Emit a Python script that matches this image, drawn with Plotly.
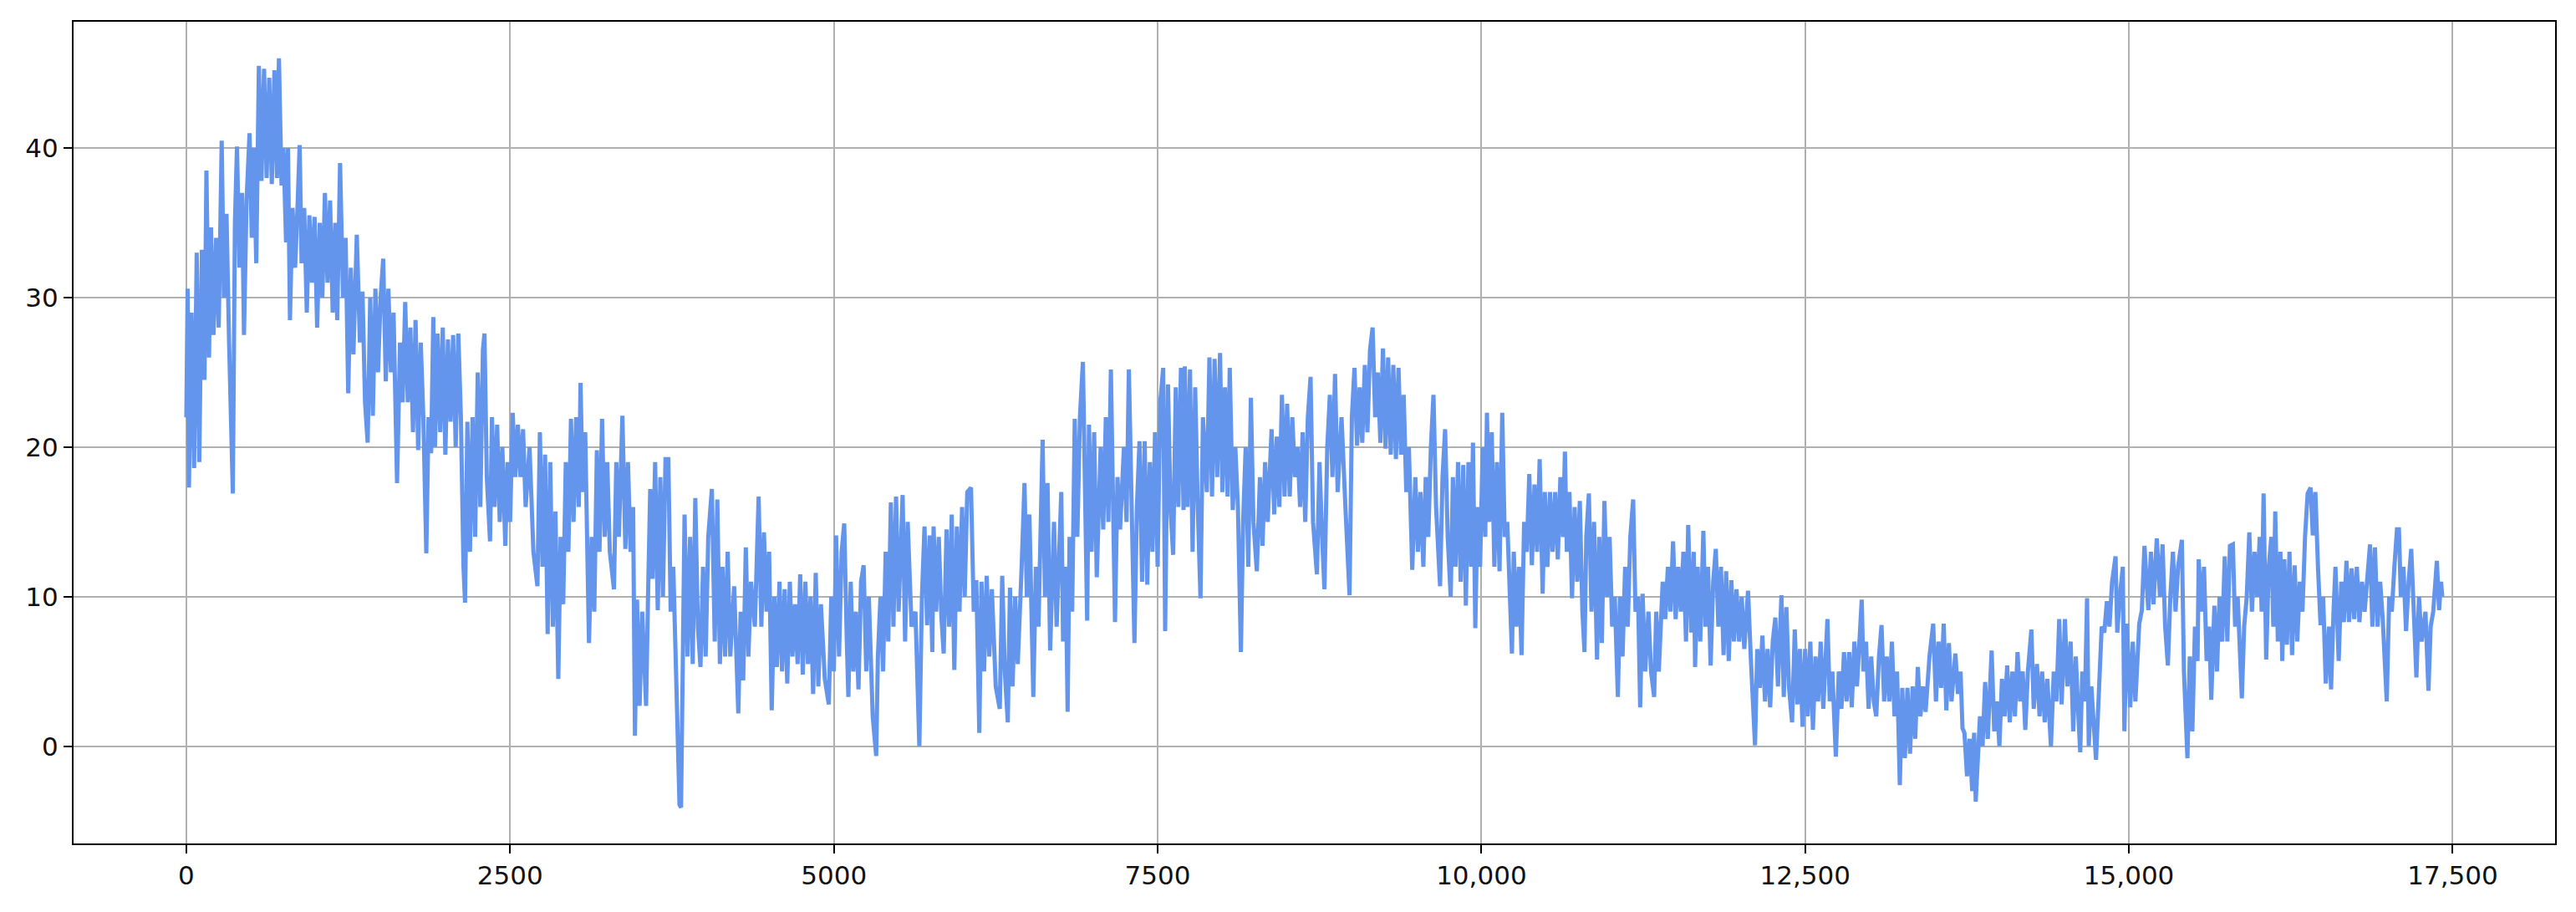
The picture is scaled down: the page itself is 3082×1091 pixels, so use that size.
import plotly.graph_objects as go

# (sample index, value) pairs, segment by segment
seg_a = [(0,22),(10,30.6),(20,17.3),(40,29),(60,18.6),(80,33),(100,19),(120,33.2),(140,24.5),(155,38.5),
         (175,26),(190,34.7),(210,27.5),(230,34),(250,28),(273,40.5),(290,30),(310,35.6),(330,27),(359,16.9),
         (375,35),(391,40.1),(410,32),(430,37),(445,27.5),(465,36.5),(488,41),(505,34),(520,40),(540,32.3),
         (560,45.5),(580,37.8),(600,45.3),(620,38),(640,44.7),(660,37.6),(680,45.2),(700,38),(715,46),(735,37.5),
         (750,40),(770,33.7),(785,40),(800,28.5),(820,36),(840,32),(860,36.4),(875,40.2),(890,32.3),(910,36),
         (930,29),(950,35.5),(970,31),(990,35.4),(1010,28),(1030,35),(1050,30),(1070,37),(1090,31),(1110,36.5),
         (1130,29),(1150,35),(1165,28.5),(1187,39),(1210,30),(1230,34),(1250,23.6),(1270,32),(1290,26.2),(1316,34.2),
         (1340,27),(1360,30.4),(1380,23),(1400,20.3),(1420,30),(1440,22.1),(1460,30.6),(1480,25),(1500,30),(1520,32.6),
         (1540,24.4),(1560,30.6),(1580,25),(1600,29),(1627,17.6),(1650,27),(1670,23),(1690,29.7),(1710,23),(1730,28),
         (1750,21),(1770,28.5),(1790,19.8),(1810,27),(1830,22),(1853,12.9),(1870,22),(1890,19.6),(1907,28.7),(1920,20)]

seg_b = [(1940,27.6),(1960,21),(1980,28),(2000,19.5),(2020,27.2),(2040,21.7),(2060,27.5),(2080,20),(2100,27.6),(2120,22),
         (2140,12),(2152,9.6),(2170,21.7),(2190,13),(2210,22),(2230,14),(2250,25),(2270,16),(2290,26.5),(2302,27.6),
         (2320,18),(2345,13.7),(2360,22),(2380,16),(2400,21.5),(2420,15),(2440,20),(2463,13.4),(2480,19),(2500,15),
         (2520,22.3),(2540,18),(2560,21.5),(2580,18),(2600,21.2),(2620,16),(2650,20),(2680,13),(2711,10.7),(2730,21),
         (2750,12),(2770,19.5),(2790,7.5),(2810,19),(2830,8),(2850,15.7),(2872,4.5),(2890,14),(2910,9.5),(2930,19),
         (2950,13),(2970,21.9),(2990,15),(3010,22),(3030,16),(3044,24.3),(3060,17),(3080,21),(3109,6.9),(3130,14),
         (3150,9),(3170,19.8),(3190,13),(3210,21.9),(3230,14),(3250,19),(3270,13),(3302,10.5),(3320,19),(3340,14),
         (3367,22.1),(3390,13.2),(3410,19),(3430,13),(3450,16),(3464,0.7),(3480,9.8),(3500,2.7),(3520,9),(3550,2.7),
         (3565,10),(3582,17.2),(3600,11.2),(3620,19),(3640,9.1),(3660,18),(3680,10),(3700,19.2),(3722,19.2),(3740,9),
         (3760,12),(3790,2),(3808,-3.9),(3820,-4.1)]

seg_c = [(3847,15.5),(3870,6),(3890,14),(3910,5.5),(3930,16.6),(3950,8),(3970,5.3),(3990,12),(4010,6),(4030,14),
         (4058,17.2),(4080,7),(4100,16.5),(4120,5.5),(4140,12),(4160,6),(4180,13),(4200,6),(4230,10.7),(4262,2.2),
         (4280,9),(4300,4.4),(4320,13.3),(4340,6),(4360,11),(4390,8),(4419,16.7),(4440,8),(4460,14.3),(4480,9),
         (4500,13),(4520,2.4),(4540,10),(4560,5.3),(4580,11),(4600,5),(4620,10.5),(4640,4.2),(4660,11),(4680,6),
         (4700,9.5),(4720,5.5),(4740,11.5),(4760,4.8),(4780,11),(4800,5.5),(4820,10),(4840,3.5),(4860,11.6),(4880,4),
         (4900,9.5),(4930,4.5),(4961,2.8),(4980,10),(5000,5),(5017,14.1),(5040,6),(5060,13),(5080,14.9),(5100,7),
         (5112,3.3),(5130,11),(5150,5),(5170,9),(5190,3.8),(5210,11),(5230,12.1),(5250,5),(5270,10),(5300,2),
         (5327,-0.65),(5340,6),(5360,10),(5380,5),(5400,13),(5420,7),(5440,16.3),(5460,8),(5480,16.7),(5500,9),
         (5531,16.8),(5550,7),(5570,15),(5600,8),(5630,9),(5660,0),(5680,10),(5700,14.7),(5720,8.1),(5740,14.1),
         (5760,6.3)]

seg_d = [(5770,14.7),(5790,9),(5810,14),(5830,8.7),(5848,6.2),(5870,14.5),(5890,8),(5910,15.5),(5930,5.1),(5950,14.7),
         (5970,9),(5990,16),(6010,10),(6030,17),(6059,17.3),(6080,9),(6100,11.1),(6123,0.9),(6140,11),(6160,5),
         (6180,11.4),(6200,6),(6220,10.5),(6250,4),(6281,2.5),(6300,11.4),(6320,5),(6343,1.6),(6360,10.6),(6380,4),
         (6400,10),(6420,5.5),(6450,12),(6472,17.6),(6490,10),(6510,15.5),(6540,3.3),(6560,12),(6580,8),(6612,20.5),
         (6630,10),(6650,17.6),(6670,6.4),(6700,15),(6720,8),(6756,17),(6770,7),(6790,12),(6805,2.3),(6820,14),
         (6840,9),(6860,21.9),(6880,14),(6900,22),(6923,25.7),(6940,15),(6956,8.4),(6970,21.5),(6990,13),(7010,21),
         (7030,11.3),(7060,20),(7080,14.5),(7100,22),(7120,15),(7139,25.2),(7155,14.5),(7171,8.3),(7190,18),(7210,14.5),
         (7240,20),(7260,15),(7278,25.2),(7300,14),(7321,6.9),(7340,16),(7360,20.4),(7380,11),(7400,20.4),(7420,10.8),
         (7440,19),(7460,13),(7480,21),(7500,12),(7520,23),(7543,25.3),(7558,7.7),(7580,24.2),(7600,15.8),(7620,12.8),
         (7640,24),(7660,16),(7680,25.3),(7700,15.8)]

seg_e = [(7710,25.4),(7730,16),(7750,25.2),(7770,13),(7790,24),(7810,16),(7831,9.9),(7850,22),(7880,17),(7900,26),
         (7920,16.7),(7940,25.9),(7960,18),(7982,26.3),(8000,17),(8020,24),(8040,16.7),(8057,25.3),(8080,15.8),(8100,20),
         (8120,16),(8143,6.3),(8160,15),(8180,20),(8200,12),(8220,23.3),(8240,15),(8266,11.7),(8290,18),(8310,13.4),
         (8330,19),(8350,15),(8380,21.2),(8400,15.5),(8420,20.7),(8440,16),(8460,23.5),(8480,16.7),(8500,22.9),(8520,16.7),
         (8540,22),(8560,18),(8580,20),(8600,16),(8620,21),(8640,15),(8660,22),(8681,24.7),(8700,15),(8730,11.5),
         (8750,19),(8770,14),(8788,10.5),(8810,20),(8830,23.5),(8850,18),(8870,24.9),(8890,17),(8920,22),(8950,16),
         (8982,10.1),(9000,22),(9020,25.3),(9040,20.1),(9060,24),(9080,20.3),(9100,25.5),(9120,21),(9140,26.5),(9160,28),
         (9180,22),(9200,25),(9220,20.3),(9240,26.6),(9260,19.9),(9280,26),(9300,19.5),(9320,25.5),(9340,19.2),(9360,25.3),
         (9380,19.5),(9400,23.5),(9420,17),(9440,20),(9466,11.8),(9490,18),(9510,13),(9530,17),(9552,12),(9570,18),
         (9590,14),(9610,20),(9630,23.5),(9650,16),(9681,10.7),(9700,18)]

seg_f = [(9720,21.2),(9740,14),(9763,10),(9780,18),(9800,12),(9820,19),(9840,11),(9860,18.8),(9880,9.4),(9900,19),
         (9920,12),(9935,20.3),(9953,7.9),(9970,16),(9990,12),(10010,20),(10030,14),(10043,22.3),(10060,15),(10080,21),
         (10100,12),(10120,19),(10140,11.7),(10161,22.3),(10180,14),(10200,15),(10220,9),(10236,6.2),(10250,13),(10270,8),
         (10290,12),(10310,6.1),(10330,15),(10350,13),(10370,18.2),(10390,12.1),(10410,17.5),(10430,13),(10450,19.2),(10473,10.2),
         (10490,17),(10510,12),(10530,17),(10550,13),(10570,17),(10590,12.5),(10610,18),(10630,14),(10645,19.7),(10660,13),
         (10680,17),(10700,9.9),(10720,16),(10740,11),(10760,16.4),(10780,9),(10796,6.3),(10810,14),(10830,16.9),(10850,9),
         (10870,15),(10893,5.8),(10910,14),(10930,6.9),(10950,16.4),(10970,10),(10990,14),(11010,8),(11030,10),(11054,3.3),
         (11070,10),(11090,6),(11110,12),(11130,8),(11150,14),(11172,16.5),(11190,9),(11210,10),(11226,2.6),(11245,10.2),
         (11265,5),(11290,9),(11310,5),(11334,3.3),(11350,9),(11370,5),(11400,11),(11420,8.5),(11440,12),(11460,9),
         (11480,13.7),(11500,8.5),(11520,12),(11540,9),(11560,13),(11580,7)]

seg_g = [(11597,14.8),(11620,7.6),(11640,13),(11650,5.3),(11670,12),(11690,7),(11714,14.4),(11730,8),(11750,12),(11770,5.4),
         (11790,11),(11810,13.2),(11830,8),(11850,12),(11870,6.1),(11890,11.7),(11910,5.7),(11930,11.1),(11950,7),(11970,10.5),
         (11990,7),(12010,10),(12030,6.5),(12059,10.4),(12080,6),(12100,3),(12113,0.06),(12130,6.5),(12150,3.9),(12170,7.4),
         (12190,3),(12210,6.5),(12230,2.6),(12250,7),(12270,8.6),(12290,4),(12317,10.1),(12335,3.3),(12355,9.3),(12375,4),
         (12399,1.6),(12420,7.8),(12440,2.8),(12460,6.5),(12480,1.3),(12500,6.5),(12520,2),(12540,7),(12560,1.1),(12580,6),
         (12600,3),(12620,7),(12640,2.5),(12672,8.5),(12690,3),(12710,5),(12737,-0.7),(12760,5),(12780,2.5),(12800,6.3),
         (12820,3),(12840,6.3),(12860,2.6),(12880,7),(12900,4),(12937,9.8),(12950,5),(12970,7),(12990,2.5),(13010,6),
         (13030,3),(13049,2),(13070,6),(13090,8.1),(13110,3),(13130,6),(13150,3),(13170,7),(13190,2),(13210,5),
         (13231,-2.6),(13250,3.9),(13270,-0.8),(13290,3.9),(13310,-0.5),(13330,4),(13350,0.5),(13370,5.3),(13390,2),(13410,4),
         (13430,2.3),(13460,6),(13489,8.2),(13510,3)]

seg_h = [(13530,7),(13550,3.9),(13570,8.2),(13590,2.4),(13610,6.9),(13630,3),(13660,6.2),(13680,3.5),(13700,5),(13715,1.2),
         (13730,0.9),(13750,-2),(13770,0.5),(13790,-3),(13805,0.9),(13817,-3.7),(13830,-1),(13850,2),(13870,0),(13890,4.3),
         (13910,0.5),(13940,6.4),(13960,1),(13980,3),(14000,0),(14020,4.5),(14040,2),(14060,5.4),(14080,1.6),(14100,5),
         (14120,2),(14140,6.3),(14160,3),(14180,5),(14200,1.1),(14220,5),(14247,7.8),(14265,2.5),(14290,5.5),(14310,2),
         (14330,5),(14350,1.6),(14370,4.5),(14398,-0.04),(14420,5),(14440,3),(14462,8.5),(14480,2.8),(14500,7),(14506,8.5),
         (14525,4),(14550,7),(14570,1),(14590,6),(14610,2),(14624,-0.4),(14640,5),(14660,3),(14677,9.9),(14690,0),
         (14710,4),(14730,1),(14746,-0.9),(14770,4),(14790,8),(14810,7.6),(14830,9.7),(14850,8),(14870,11),(14897,12.7),
         (14910,7.6),(14930,10),(14953,12),(14965,1),(14985,8.2),(15010,2.6),(15030,7),(15050,3),(15080,8.2),(15100,9.1),
         (15120,13.4),(15150,9.1),(15170,13),(15190,9.5),(15215,13.9),(15240,10),(15260,13.5),(15280,8),(15301,5.4),(15320,10),
         (15340,13),(15360,9),(15380,12),(15409,13.8),(15425,5),(15452,-0.8)]

seg_i = [(15470,6),(15490,1),(15510,8),(15530,5.7),(15539,12.5),(15560,9),(15580,12),(15600,5.7),(15620,8),(15636,3.1),
         (15660,9.4),(15680,5),(15700,10),(15720,7),(15740,12.7),(15760,7),(15780,13.4),(15803,13.5),(15820,8),(15840,10),
         (15860,6),(15872,3.2),(15890,8),(15910,10),(15930,14.3),(15950,9),(15970,13),(15990,10),(16010,14),(16025,9),
         (16040,16.9),(16060,5.8),(16080,12),(16100,14),(16115,8),(16130,15.7),(16150,7),(16170,13),(16184,5.7),(16200,12.5),
         (16220,6.8),(16240,13),(16260,6.1),(16280,12.1),(16300,7),(16320,11),(16340,9),(16360,14),(16380,16.9),(16403,17.3),
         (16420,14.1),(16440,17),(16460,12),(16480,8.1),(16500,10),(16520,4.2),(16545,8),(16561,3.8),(16580,9),(16595,12),
         (16620,5.7),(16640,11),(16660,8.3),(16680,12.4),(16700,8.3),(16720,11.9),(16740,8.5),(16760,12),(16780,8.3),(16800,11),
         (16820,9),(16845,11.5),(16862,13.5),(16880,8),(16900,13.3),(16920,8),(16940,11),(16960,8.5),(16991,3),(17010,10),
         (17030,9),(17050,12),(17070,14.5),(17085,14.5),(17100,10),(17120,12),(17140,7.7),(17160,11),(17180,13.2),(17200,9),
         (17220,4.6),(17240,10),(17260,7),(17290,9),(17313,3.7),(17330,8),(17350,9),(17378,12.4),(17395,9.1),(17410,11),
         (17420,10)]

x_tick_vals = [0, 2500, 5000, 7500, 10000, 12500, 15000, 17500]
x_tick_text = ["0", "2500", "5000", "7500", "10,000", "12,500", "15,000", "17,500"]
y_tick_vals = [0, 10, 20, 30, 40]

points = seg_a + seg_b + seg_c + seg_d + seg_e + seg_f + seg_g + seg_h + seg_i
xs = [p[0] for p in points]
ys = [p[1] for p in points]

fig = go.Figure()
fig.add_trace(go.Scatter(x=xs, y=ys, mode="lines",
                         line=dict(color="#6495ED", width=5), showlegend=False))

axis_common = dict(showline=True, linecolor="#000000", linewidth=2, mirror=True,
                   showgrid=True, gridcolor="#b0b0b0", gridwidth=2,
                   ticks="outside", ticklen=10, tickwidth=2, tickcolor="#000000",
                   zeroline=False, tickfont=dict(family="DejaVu Sans", size=31, color="#111111"))

# the page body keeps its default 8px margin, so the figure is sized to fit inside it
fig.update_layout(
    width=3074, height=1083,
    margin=dict(l=80, r=25, t=18, b=82),
    paper_bgcolor="white", plot_bgcolor="white",
    xaxis=dict(range=[-871, 18291], tickvals=x_tick_vals, ticktext=x_tick_text, **axis_common),
    yaxis=dict(range=[-6.5, 48.45], tickvals=y_tick_vals, **axis_common),
)

fig.write_html("out.html")
